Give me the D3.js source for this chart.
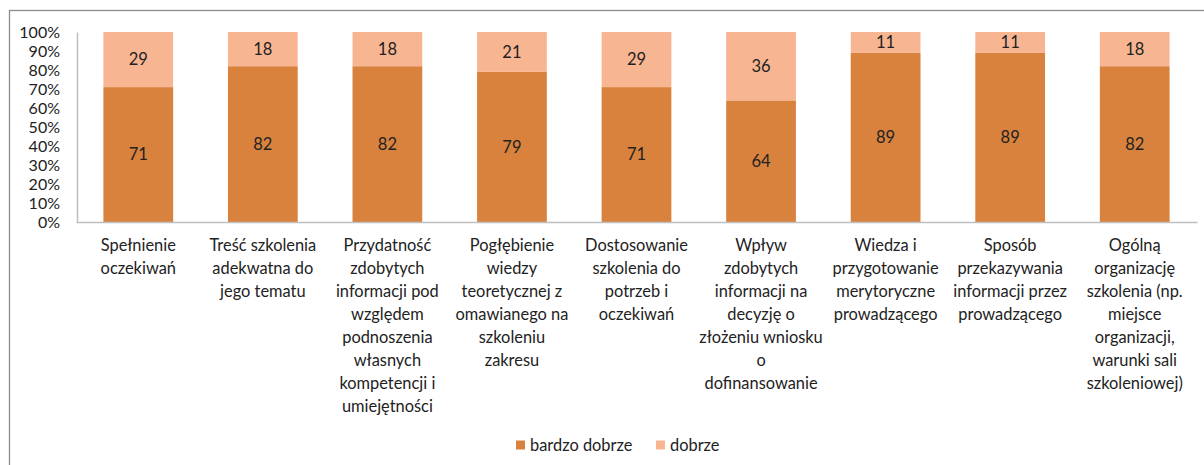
<!DOCTYPE html>
<html lang="pl">
<head>
<meta charset="utf-8">
<title>Ocena szkolenia</title>
<script src="https://cdn.jsdelivr.net/npm/d3@7"></script>
<style>
  body { margin:0; background:#fff; font-family:Lato, "Open Sans", sans-serif; }
  svg text { fill:#222; font-family:Lato, "Open Sans", sans-serif; }
</style>
</head>
<body>
<script>
// categories (line breaks as in the original)
var categories = [
  "Spełnienie\noczekiwań",
  "Treść szkolenia\nadekwatna do\njego tematu",
  "Przydatność\nzdobytych\ninformacji pod\nwzględem\npodnoszenia\nwłasnych\nkompetencji i\numiejętności",
  "Pogłębienie\nwiedzy\nteoretycznej z\nomawianego na\nszkoleniu\nzakresu",
  "Dostosowanie\nszkolenia do\npotrzeb i\noczekiwań",
  "Wpływ\nzdobytych\ninformacji na\ndecyzję o\nzłożeniu wniosku\no\ndofinansowanie",
  "Wiedza i\nprzygotowanie\nmerytoryczne\nprowadzącego",
  "Sposób\nprzekazywania\ninformacji przez\nprowadzącego",
  "Ogólną\norganizację\nszkolenia (np.\nmiejsce\norganizacji,\nwarunki sali\nszkoleniowej)"
];
var bardzoDobrze = [71, 82, 82, 79, 71, 64, 89, 89, 82];
var dobrze       = [29, 18, 18, 21, 29, 36, 11, 11, 18];
var seriesNames  = ["bardzo dobrze", "dobrze"];
var seriesColors = ["#D9823E", "#F8B592"];
var yTicks = [0, 10, 20, 30, 40, 50, 60, 70, 80, 90, 100];

var w = 1204, h = 465;
var svg = d3.select("body").append("svg").attr("width", w).attr("height", h);

// outer frame
svg.append("rect").attr("x", 9.5).attr("y", 10.5).attr("width", w).attr("height", h)
  .attr("fill", "none").attr("stroke", "#8c8c8c").attr("stroke-width", 1.3);

var x = d3.scaleBand().domain(d3.range(categories.length)).range([76, 1197]).paddingInner(0.44).paddingOuter(0.22);
var y = d3.scaleLinear().domain([0, 100]).range([222, 32]);

// y axis
var yAxis = d3.axisLeft(y).tickValues(yTicks).tickSize(0).tickFormat(function(d){ return d + "%"; });
var gy = svg.append("g").attr("transform", "translate(77,0)").call(yAxis);
gy.select(".domain").attr("stroke", "#bfbfbf").attr("stroke-width", 1.5);
gy.selectAll("text").attr("x", -17).style("font-size", "16px").style("font-family", null).attr("fill", "#222");

// stacked data
var rows = categories.map(function(c, i){ return { i: i, v: [bardzoDobrze[i], dobrze[i]] }; });
var stack = d3.stack().keys([0, 1]).value(function(d, k){ return d.v[k]; });
var layers = stack(rows);

svg.selectAll("g.layer").data(layers).enter().append("g").attr("class", "layer")
  .attr("fill", function(d, k){ return seriesColors[k]; })
  .each(function(layer, k){
    var g = d3.select(this);
    g.selectAll("rect").data(layer).enter().append("rect")
      .attr("x", function(d){ return x(d.data.i); })
      .attr("width", x.bandwidth())
      .attr("y", function(d){ return y(d[1]); })
      .attr("height", function(d){ return y(d[0]) - y(d[1]); });
    g.selectAll("text").data(layer).enter().append("text")
      .attr("x", function(d){ return x(d.data.i) + x.bandwidth() / 2; })
      .attr("y", function(d){ return (y(d[0]) + y(d[1])) / 2; })
      .attr("text-anchor", "middle").attr("dy", "0.35em")
      .style("font-size", "16.5px").attr("fill", "#222")
      .text(function(d){ return d.data.v[k]; });
  });

// x axis line
var xAxis = d3.axisBottom(x).tickSize(0).tickFormat("");
var gx = svg.append("g").attr("transform", "translate(0,222)").call(xAxis);
gx.select(".domain").attr("stroke", "#bfbfbf").attr("stroke-width", 1.5);

// category labels
svg.selectAll("text.cat").data(categories).enter().append("text").attr("class", "cat")
  .attr("text-anchor", "middle").style("font-size", "16.4px")
  .each(function(c, i){
    var t = d3.select(this);
    c.split("\n").forEach(function(line, j){
      t.append("tspan").attr("x", x(i) + x.bandwidth() / 2).attr("y", 251 + j * 23).text(line);
    });
  });

// legend
var legendX = [516, 656];
var lg = svg.selectAll("g.legend").data(seriesNames).enter().append("g").attr("class", "legend")
  .attr("transform", function(d, k){ return "translate(" + legendX[k] + ",445)"; });
lg.append("rect").attr("x", 0).attr("y", -4.5).attr("width", 9).attr("height", 9)
  .attr("fill", function(d, k){ return seriesColors[k]; });
lg.append("text").attr("x", 14).attr("dy", "0.35em").style("font-size", "16.4px").text(function(d){ return d; });
</script>
</body>
</html>
